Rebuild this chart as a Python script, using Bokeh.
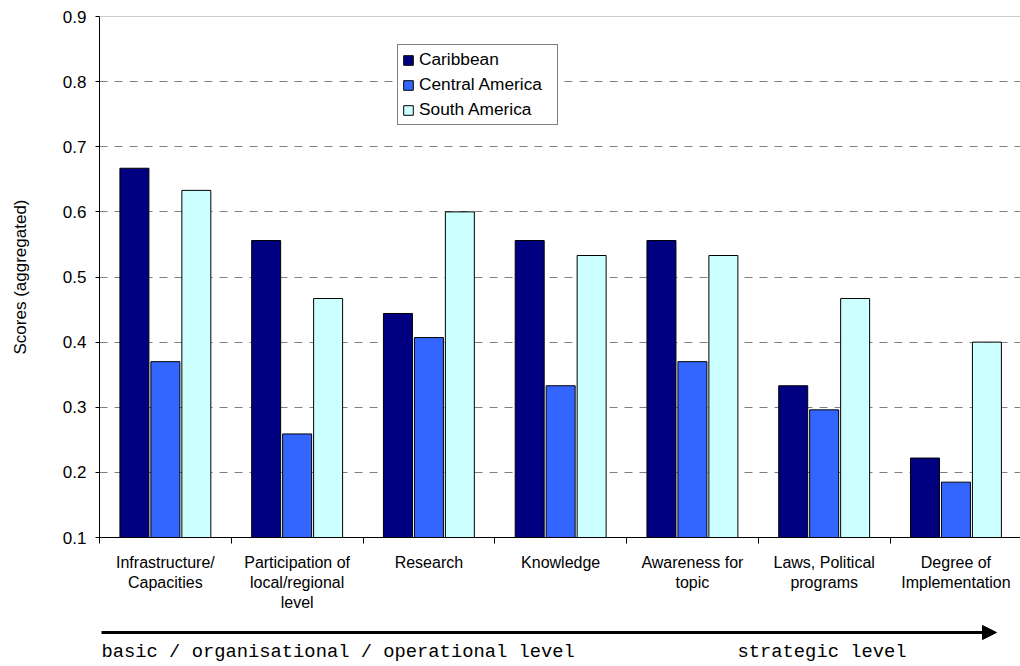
import numpy as np
from bokeh.plotting import figure
from bokeh.layouts import column
from bokeh.models import (Range1d, FixedTicker, PrintfTickFormatter, Legend, LegendItem,
                          Span, Arrow, NormalHead)
from bokeh.core.properties import value
from bokeh.embed import file_html
from bokeh.resources import INLINE

categories = ["Infrastructure/\nCapacities", "Participation of\nlocal/regional\nlevel", "Research",
              "Knowledge", "Awareness for\ntopic", "Laws, Political\nprograms", "Degree of\nImplementation"]
series_names = ["Caribbean", "Central America", "South America"]
caribbean = [0.667, 0.556, 0.444, 0.556, 0.556, 0.333, 0.222]
central_america = [0.370, 0.259, 0.407, 0.333, 0.370, 0.296, 0.185]
south_america = [0.633, 0.467, 0.600, 0.533, 0.533, 0.467, 0.400]
y_ticks = [0.1, 0.2, 0.3, 0.4, 0.5, 0.6, 0.7, 0.8, 0.9]
level_texts = ["basic / organisational / operational level", "strategic level"]

colors = ["#000080", "#3366FF", "#CCFFFF"]
offsets = [-0.235, 0.0, 0.235]
FONT = "Liberation Sans"

p = figure(width=1020, height=620, x_range=Range1d(0, 6.99), y_range=Range1d(0.1, 0.9),
           output_backend="svg", toolbar_location=None,
           min_border_left=99, min_border_right=0, min_border_top=16, min_border_bottom=83)
p.outline_line_color = None
p.background_fill_color = "white"
p.border_fill_color = "white"

centers = np.arange(len(categories)) + 0.5
renderers = []
for vals, col, off in zip([caribbean, central_america, south_america], colors, offsets):
    r = p.vbar(x=centers + off, top=vals, bottom=0, width=0.22,
               fill_color=col, line_color="black", line_width=1)
    renderers.append(r)

# grid
p.xgrid.visible = False
p.ygrid.ticker = FixedTicker(ticks=y_ticks[1:-1])
p.ygrid.grid_line_color = "#808080"
p.ygrid.grid_line_dash = "8 7"
p.ygrid.grid_line_width = 1
p.add_layout(Span(location=y_ticks[-1], dimension="width", line_color="#999999", line_width=1))

# y axis
yax = p.yaxis[0]
yax.ticker = FixedTicker(ticks=y_ticks)
yax.formatter = PrintfTickFormatter(format="%.1f")
yax.axis_line_color = "black"
yax.major_tick_out = 4
yax.major_tick_in = 0
yax.minor_tick_out = 0
yax.minor_tick_in = 0
yax.major_label_standoff = 9
yax.major_label_text_font = FONT
yax.major_label_text_font_size = "17px"
yax.major_label_text_color = "black"
yax.axis_label = "Scores (aggregated)"
yax.axis_label_text_font = FONT
yax.axis_label_text_font_size = "17px"
yax.axis_label_text_font_style = "normal"
yax.axis_label_text_color = "black"
yax.axis_label_standoff = 30

# x axis
xax = p.xaxis[0]
xax.ticker = FixedTicker(ticks=list(centers), minor_ticks=list(range(len(categories) + 1)))
xax.major_label_overrides = {float(c): lab for c, lab in zip(centers, categories)}
xax.axis_line_color = "black"
xax.major_tick_out = 0
xax.major_tick_in = 0
xax.minor_tick_out = 6
xax.minor_tick_in = 0
xax.minor_tick_line_color = "black"
xax.major_label_standoff = 10
xax.major_label_text_font = FONT
xax.major_label_text_font_size = "16px"
xax.major_label_text_color = "black"

# legend
legend = Legend(items=[LegendItem(label=n, renderers=[r]) for n, r in zip(series_names, renderers)],
                location=(298, 412), orientation="vertical")
legend.glyph_width = 12
legend.glyph_height = 12
legend.label_standoff = 5
legend.label_width = 134
legend.padding = 4
legend.spacing = 4
legend.label_height = 19
legend.margin = 0
legend.border_line_color = "black"
legend.border_line_width = 1
legend.background_fill_color = "white"
legend.background_fill_alpha = 1
legend.label_text_font = FONT
legend.label_text_font_size = "17.3px"
legend.label_text_color = "black"
p.add_layout(legend, "center")

# bottom strip: arrow and level texts (page-pixel coordinates)
b = figure(width=1020, height=46, x_range=Range1d(99, 1020), y_range=Range1d(666, 620),
           output_backend="svg", toolbar_location=None, x_axis_type=None, y_axis_type=None,
           min_border_left=99, min_border_right=0, min_border_top=0, min_border_bottom=0)
b.outline_line_color = None
b.xgrid.visible = False
b.ygrid.visible = False
b.background_fill_color = "white"
b.border_fill_color = "white"
b.add_layout(Arrow(end=NormalHead(size=14, fill_color="black", line_color="black", line_width=1),
                   x_start=101, y_start=632, x_end=996, y_end=632,
                   line_width=3, line_color="black"))
b.text(x=[101, 737], y=[651, 651], text=level_texts,
       text_font=value("Liberation Mono"), text_font_size="18.8px", text_color="black",
       text_baseline="middle", text_align="left")

open("out.html", "w").write(file_html(column(p, b, spacing=0), INLINE))
